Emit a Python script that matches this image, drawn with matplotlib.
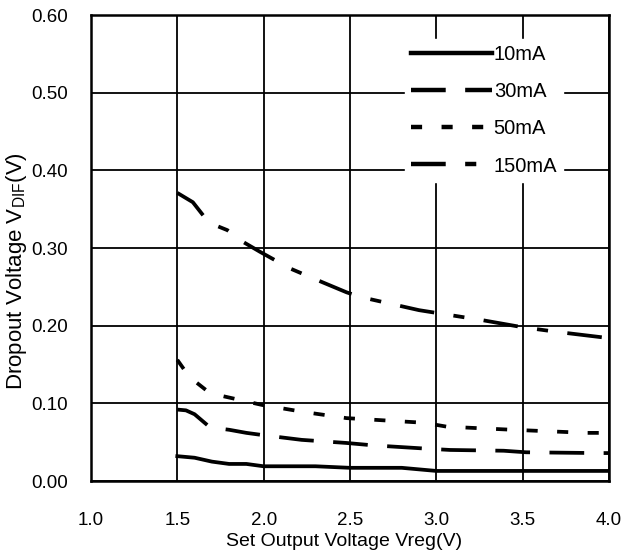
import matplotlib
matplotlib.use('Agg')
import matplotlib.pyplot as plt

plt.rcParams['font.family'] = ['Liberation Sans', 'DejaVu Sans']
plt.rcParams['mathtext.fontset'] = 'custom'
plt.rcParams['mathtext.rm'] = 'Liberation Sans'
plt.rcParams['lines.scale_dashes'] = False

# 10mA
x10 = [1.5, 1.6, 1.7, 1.8, 1.9, 2.0, 2.3, 2.5, 2.8, 2.9, 3.0, 3.5, 4.0]
y10 = [0.032, 0.030, 0.025, 0.022, 0.022, 0.019, 0.019, 0.017, 0.017, 0.015, 0.013, 0.013, 0.013]

# 30mA
x30 = [1.5, 1.55, 1.6, 1.69, 1.8, 1.9, 2.0, 2.22, 2.48, 2.63, 2.92, 3.08, 3.39, 3.52, 3.93, 4.0]
y30 = [0.092, 0.091, 0.086, 0.069, 0.066, 0.062, 0.059, 0.053, 0.049, 0.046, 0.042, 0.040, 0.039, 0.037, 0.036, 0.036]

# 50mA
x50 = [1.5, 1.57, 1.69, 1.79, 1.99, 2.23, 2.48, 2.93, 3.06, 3.44, 3.87, 4.0]
y50 = [0.156, 0.134, 0.113, 0.108, 0.098, 0.089, 0.081, 0.075, 0.070, 0.066, 0.062, 0.062]

# 150mA
x150 = [1.5, 1.59, 1.65, 1.69, 1.79, 1.88, 1.98, 2.15, 2.34, 2.48, 2.56, 2.9, 3.27, 3.5, 3.7, 4.0]
y150 = [0.371, 0.359, 0.342, 0.332, 0.323, 0.308, 0.295, 0.274, 0.256, 0.243, 0.237, 0.220, 0.207, 0.198, 0.192, 0.184]

xticks = [1.0, 1.5, 2.0, 2.5, 3.0, 3.5, 4.0]
yticks = [0.0, 0.1, 0.2, 0.3, 0.4, 0.5, 0.6]

fig = plt.figure(figsize=(6.23, 5.57), dpi=100)
ax = fig.add_axes([0.146, 0.1364, 0.8315, 0.8366])

lw = 2.7
ax.plot(x10, y10, color='black', lw=lw, label='10mA')
ax.plot(x30, y30, color='black', lw=lw, dashes=(25, 14), label='30mA')
ax.plot(x50, y50, color='black', lw=lw, dashes=(8, 14), label='50mA')
ax.plot(x150, y150, color='black', lw=lw, dashes=(25, 14, 8, 14), label='150mA')

ax.set_xlim(1.0, 4.0)
ax.set_ylim(0.0, 0.6)
ax.set_xticks(xticks)
ax.set_yticks(yticks)
ax.set_xticklabels(['%.1f' % v for v in xticks], fontsize=13.5)
ax.set_yticklabels(['%.2f' % v for v in yticks], fontsize=13.5)
ax.tick_params(length=0)
ax.tick_params(axis='x', pad=22)
ax.tick_params(axis='y', pad=16.5)
ax.grid(True, color='black', lw=1.3)
ax.set_axisbelow(True)
for s in ax.spines.values():
    s.set_linewidth(1.8)

ax.set_xlabel('Set Output Voltage Vreg(V)', fontsize=14)
ax.xaxis.set_label_coords(0.488, -0.112)
ax.set_ylabel('Dropout Voltage V$\\mathregular{_{DIF}}$(V)', fontsize=16)
ax.yaxis.set_label_coords(-0.12, 0.45)

leg = ax.legend(loc='upper left', bbox_to_anchor=(0.587, 0.97), fontsize=14.5,
                handlelength=4.0, handletextpad=0.1, labelspacing=0.9,
                frameon=True, fancybox=False, framealpha=1,
                facecolor='white', edgecolor='white', borderpad=0.3)
for l in leg.get_lines():
    l.set_linewidth(3.2)

fig.savefig('out.png', dpi=100)
